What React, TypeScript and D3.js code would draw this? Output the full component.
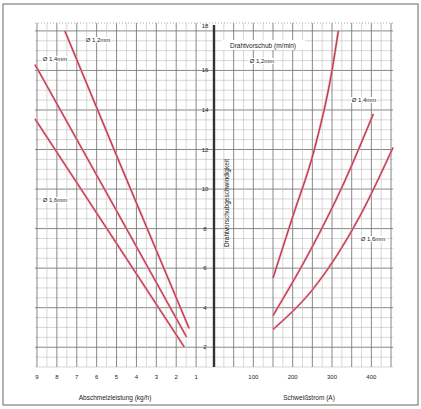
import React from 'react';
import * as d3 from 'd3';

// ticks
const leftTicks = [9, 8, 7, 6, 5, 4, 3, 2, 1];
const rightTicks = [100, 200, 300, 400];
const yTicks = [2, 4, 6, 8, 10, 12, 14, 16, 18];

// Abschmelzleistung (kg/h) -> Drahtvorschub (m/min)
const left12 = [[7.6, 18.0], [5.0, 11.7], [1.35, 2.95]];
const left14 = [[9.1, 16.3], [5.0, 8.9], [1.48, 2.52]];
const left16 = [[9.1, 13.55], [5.0, 7.25], [1.6, 2.02]];

// Schweißstrom (A) -> Drahtvorschub (m/min)
const right12 = [[150, 5.5], [200, 8.6], [255, 12.0], [300, 16.0], [316, 18.0]];
const right14 = [[150, 3.6], [245, 6.9], [330, 10.3], [405, 13.8]];
const right16 = [[150, 2.9], [250, 4.9], [370, 8.6], [455, 12.1]];

const labels = [
  { t: 'Ø 1,2mm', x: 98, y: 42 },
  { t: 'Ø 1,4mm', x: 55, y: 61 },
  { t: 'Ø 1,6mm', x: 55, y: 202 },
  { t: 'Ø 1,2mm', x: 262, y: 63 },
  { t: 'Ø 1,4mm', x: 364, y: 102 },
  { t: 'Ø 1,6mm', x: 373, y: 241 }
];

export default class App extends React.Component {
  container: any;

  render() {
    return (
      <svg
        ref={ref => { this.container = ref; }}
        width={421}
        height={409}
        style={{ position: 'absolute', left: 0, top: 0, background: '#fff' }}
      />
    );
  }

  componentDidMount() {
    const font = 'Liberation Sans, Arial, sans-serif';
    let svg = d3.select(this.container);
    svg.selectAll('*').remove();

    let top = 23, bottom = 367, axisX = 214;
    let xl = d3.scaleLinear().domain([9.1, 0.1]).range([35, axisX]);
    let xr = d3.scaleLinear().domain([0, 455]).range([axisX, 393]);
    let y = d3.scaleLinear().domain([1, 18.4]).range([bottom, top]);

    svg.append('rect')
      .attr('x', 3).attr('y', 4).attr('width', 415).attr('height', 401)
      .attr('fill', 'none').attr('stroke', '#666').attr('stroke-width', 1);

    let grid = svg.append('g');
    // horizontal grid
    d3.range(1, 18.01, 0.5).forEach(v => {
      grid.append('line')
        .attr('x1', 35).attr('x2', 393)
        .attr('y1', y(v)).attr('y2', y(v))
        .attr('stroke', v % 2 === 0 ? '#7a7a7a' : '#bdbdbd')
        .attr('stroke-width', v % 2 === 0 ? 0.9 : 0.6);
    });
    // vertical grid left
    d3.range(0.5, 9.01, 0.5).forEach(v => {
      grid.append('line')
        .attr('x1', xl(v)).attr('x2', xl(v))
        .attr('y1', top).attr('y2', bottom)
        .attr('stroke', v % 1 === 0 ? '#7a7a7a' : '#bdbdbd')
        .attr('stroke-width', v % 1 === 0 ? 0.9 : 0.6);
    });
    // vertical grid right
    d3.range(25, 451, 25).forEach(v => {
      grid.append('line')
        .attr('x1', xr(v)).attr('x2', xr(v))
        .attr('y1', top).attr('y2', bottom)
        .attr('stroke', v % 50 === 0 ? '#7a7a7a' : '#bdbdbd')
        .attr('stroke-width', v % 50 === 0 ? 0.9 : 0.6);
    });
    grid.append('line')
      .attr('x1', 35).attr('x2', 393).attr('y1', top).attr('y2', top)
      .attr('stroke', '#aaa').attr('stroke-dasharray', '1,2');

    // curves
    let lineL = d3.line<any>().x(d => xl(d[0])).y(d => y(d[1])).curve(d3.curveMonotoneX);
    let lineR = d3.line<any>().x(d => xr(d[0])).y(d => y(d[1])).curve(d3.curveMonotoneX);
    let drawCurve = (d: any) => {
      svg.append('path').attr('d', d).attr('fill', 'none')
        .attr('stroke', '#ec8c9a').attr('stroke-width', 2.2);
      svg.append('path').attr('d', d).attr('fill', 'none')
        .attr('stroke', '#a8283f').attr('stroke-width', 0.9);
    };
    [left12, left14, left16].forEach(s => drawCurve(lineL(s)));
    [right12, right14, right16].forEach(s => drawCurve(lineR(s)));

    // central axis
    svg.append('line')
      .attr('x1', axisX).attr('x2', axisX).attr('y1', top + 2).attr('y2', bottom)
      .attr('stroke', '#333').attr('stroke-width', 2.4);

    // y tick labels
    yTicks.forEach(v => {
      svg.append('text')
        .attr('x', 205).attr('y', v === 18 ? 28 : y(v) + 2)
        .attr('text-anchor', 'middle')
        .attr('font-family', font).attr('font-size', 6)
        .attr('fill', '#222').text(v);
    });
    leftTicks.forEach(v => {
      svg.append('text')
        .attr('x', xl(v)).attr('y', 379)
        .attr('text-anchor', 'middle')
        .attr('font-family', font).attr('font-size', 6)
        .attr('fill', '#222').text(v);
    });
    rightTicks.forEach(v => {
      svg.append('text')
        .attr('x', xr(v)).attr('y', 379)
        .attr('text-anchor', 'middle')
        .attr('font-family', font).attr('font-size', 6)
        .attr('fill', '#222').text(v);
    });

    // axis titles
    svg.append('text')
      .attr('x', 115).attr('y', 400).attr('text-anchor', 'middle')
      .attr('font-family', font).attr('font-size', 6.5).attr('fill', '#222')
      .text('Abschmelzleistung (kg/h)');
    svg.append('text')
      .attr('x', 309).attr('y', 400).attr('text-anchor', 'middle')
      .attr('font-family', font).attr('font-size', 6.5).attr('fill', '#222')
      .text('Schweißstrom (A)');
    svg.append('text')
      .attr('transform', 'translate(229,203) rotate(-90)')
      .attr('text-anchor', 'middle')
      .attr('font-family', font).attr('font-size', 6.5).attr('fill', '#222')
      .text('Drahtvorschubgeschwindigkeit');
    svg.append('rect')
      .attr('x', 221).attr('y', 40).attr('width', 84).attr('height', 10).attr('fill', '#fff');
    svg.append('text')
      .attr('x', 263).attr('y', 48).attr('text-anchor', 'middle')
      .attr('font-family', font).attr('font-size', 6.5).attr('fill', '#222')
      .text('Drahtvorschub (m/min)');

    labels.forEach(l => {
      let g = svg.append('g');
      let t = g.append('text')
        .attr('x', l.x).attr('y', l.y).attr('text-anchor', 'middle')
        .attr('font-family', font).attr('font-size', 6).attr('fill', '#222')
        .text(l.t);
      let bb = (t.node() as any).getBBox();
      g.insert('rect', 'text')
        .attr('x', bb.x - 1).attr('y', bb.y).attr('width', bb.width + 2).attr('height', bb.height)
        .attr('fill', '#fff');
    });
  }
}
